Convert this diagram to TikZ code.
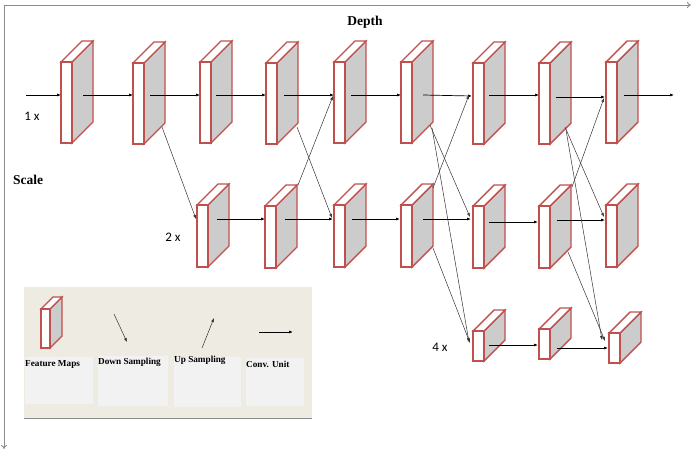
\documentclass[tikz,border=0pt]{standalone}
\usepackage{fontspec}
\setmainfont{Liberation Serif}
\newfontfamily\calib{Carlito}
\usetikzlibrary{arrows.meta}
\definecolor{blkred}{HTML}{C0504D}
\definecolor{blkgray}{HTML}{CCCCCC}
\definecolor{legbg}{HTML}{EEEBE2}
\definecolor{legbox}{HTML}{F2F2F2}
\definecolor{axisgray}{HTML}{8C8C8C}
\newcommand{\blk}[6]{% name, x, ytop, w, h, d
  \filldraw[face, fill=blkgray] ({#2+#4},{#3}) -- ({#2+#4+#6},{#3-#6}) -- ({#2+#4+#6},{#3-#6+#5}) -- ({#2+#4},{#3+#5}) -- cycle;
  \filldraw[face, fill=white] ({#2},{#3}) -- ({#2+#6},{#3-#6}) -- ({#2+#4+#6},{#3-#6}) -- ({#2+#4},{#3}) -- cycle;
  \node[front, minimum width=#4pt, minimum height=#5pt, anchor=north west] (#1) at (#2,#3) {};
}
\begin{document}
\begin{tikzpicture}[x=1pt,y=-1pt,
  face/.style={draw=blkred, line width=1.4pt, line join=miter},
  front/.style={draw=blkred, fill=white, line width=1.4pt, inner sep=0pt, outer sep=0pt, rectangle},
  conv/.style={-{Latex[length=4pt,width=3pt]}, line width=0.7pt, black},
  samp/.style={-{Latex[length=4pt,width=3pt]}, line width=0.5pt, black!80},
  axis/.style={-{To[length=4pt,width=6pt]}, line width=0.9pt, axisgray},
  lbl/.style={font=\calib\fontsize{13}{15}\selectfont, inner sep=0pt},
  ttl/.style={font=\bfseries\fontsize{13.5}{15}\selectfont, inner sep=0pt},
  leg/.style={font=\bfseries\fontsize{9.2}{10}\selectfont, inner sep=0pt, anchor=west}]
\useasboundingbox (0,0) rectangle (693,453);

% axes
\coordinate (origin) at (4,5);
\coordinate (xend) at (691,5);
\coordinate (yend) at (4,449);
\draw[axis] (origin) -- (xend);
\draw[axis] (origin) -- (yend);
\node[ttl] (depth) at (365,22) {Depth};
\node[ttl] (scale) at (28,180) {Scale};

% row 1
\blk{a1}{61}{62}{11}{81}{21}
\blk{a2}{133}{63}{11}{81}{21}
\blk{a3}{200}{62}{11}{81}{21}
\blk{a4}{266}{63}{11}{81}{21}
\blk{a5}{334}{62}{11}{81}{21}
\blk{a6}{401}{62}{11}{81}{21}
\blk{a7}{473}{63}{11}{81}{21}
\blk{a8}{539}{63}{11}{81}{21}
\blk{a9}{606}{62}{11}{81}{21}
% row 2
\blk{b3}{197}{205}{11}{62}{21}
\blk{b4}{265}{206}{11}{62}{21}
\blk{b5}{334}{205}{11}{62}{21}
\blk{b6}{401}{205}{11}{62}{21}
\blk{b7}{473}{206}{11}{62}{21}
\blk{b8}{539}{206}{11}{62}{21}
\blk{b9}{606}{205}{11}{62}{21}
% row 3
\blk{c7}{473}{331}{11}{30}{21}
\blk{c8}{539}{329}{11}{30}{21}
\blk{c9}{609}{333}{11}{30}{21}

\node[lbl] (l1) at (32,116) {1 x};
\node[lbl] (l2) at (173,237) {2 x};
\node[lbl] (l4) at (440,347) {4 x};

% row 1 connectors
\coordinate (in) at (26,95);
\coordinate (a1o) at (83,95);   \coordinate (a2i) at (133,95);
\coordinate (a2o) at (150,95);  \coordinate (a3i) at (200,95);
\coordinate (a3o) at (216,95);  \coordinate (a4i) at (266,95);
\coordinate (a4o) at (284,95);  \coordinate (a5i) at (334,95);
\coordinate (a5o) at (351,95);  \coordinate (a6i) at (401,95);
\coordinate (a6o) at (423,95);  \coordinate (a7i) at (472,96);
\coordinate (a7o) at (489,95);  \coordinate (a8i) at (539,95);
\coordinate (a8o) at (556,97);  \coordinate (a9i) at (605,97);
\coordinate (a9o) at (624,95);  \coordinate (out) at (674,95);
\coordinate (a1i) at (61,95);
\draw[conv] (in) -- (a1i);
\draw[conv] (a1o) -- (a2i);
\draw[conv] (a2o) -- (a3i);
\draw[conv] (a3o) -- (a4i);
\draw[conv] (a4o) -- (a5i);
\draw[conv] (a5o) -- (a6i);
\draw[conv] (a6o) -- (a7i);
\draw[conv] (a7o) -- (a8i);
\draw[conv] (a8o) -- (a9i);
\draw[conv] (a9o) -- (out);

% row 2 connectors
\coordinate (b3o) at (217,219); \coordinate (b4i) at (265,219);
\coordinate (b4o) at (285,219); \coordinate (b5i) at (333,219);
\coordinate (b5o) at (352,219); \coordinate (b6i) at (400,219);
\coordinate (b6o) at (423,219); \coordinate (b7i) at (471,219);
\coordinate (b7o) at (489,222); \coordinate (b8i) at (538,222);
\coordinate (b8o) at (557,220); \coordinate (b9i) at (605,220);
\draw[conv] (b3o) -- (b4i);
\draw[conv] (b4o) -- (b5i);
\draw[conv] (b5o) -- (b6i);
\draw[conv] (b6o) -- (b7i);
\draw[conv] (b7o) -- (b8i);
\draw[conv] (b8o) -- (b9i);

% row 3 connectors
\coordinate (c7o) at (489,345); \coordinate (c8i) at (538,345);
\coordinate (c8o) at (557,348); \coordinate (c9i) at (608,348);
\draw[conv] (c7o) -- (c8i);
\draw[conv] (c8o) -- (c9i);

% sampling connectors
\coordinate (s1a) at (162,127); \coordinate (s1b) at (196,219);
\coordinate (s2a) at (297,127); \coordinate (s2b) at (332,218);
\coordinate (s3a) at (298,185); \coordinate (s3b) at (333,96);
\coordinate (s4a) at (430,125); \coordinate (s4b) at (470,217);
\coordinate (s5a) at (432,128); \coordinate (s5b) at (469,342);
\coordinate (s6a) at (433,188); \coordinate (s6b) at (469,95);
\coordinate (s7a) at (433,248); \coordinate (s7b) at (470,343);
\coordinate (s8a) at (565,127); \coordinate (s8b) at (604,217);
\coordinate (s9a) at (566,130); \coordinate (s9b) at (602,340);
\coordinate (s10a) at (572,187); \coordinate (s10b) at (604,98);
\coordinate (s11a) at (568,252); \coordinate (s11b) at (605,341);
\foreach \k in {1,...,11}{\draw[samp] (s\k a) -- (s\k b);}

% legend
\fill[legbg] (24,287) rectangle (312,418);
\draw[axisgray, line width=0.8pt] (24,418) -- (312,418);
\fill[legbox] (25,357) rectangle (93,404);
\fill[legbox] (98,356) rectangle (168,406);
\fill[legbox] (174,357) rectangle (241,407);
\fill[legbox] (246,358) rectangle (304,406);
\blk{lg}{41}{309}{9}{39}{12}
\coordinate (ld1) at (114,314); \coordinate (ld2) at (127,342);
\coordinate (lu1) at (202,348); \coordinate (lu2) at (214,318);
\coordinate (lc1) at (259,332); \coordinate (lc2) at (293,332);
\draw[samp] (ld1) -- (ld2);
\draw[samp] (lu1) -- (lu2);
\draw[conv] (lc1) -- (lc2);
\node[leg] (tf) at (25,364) {Feature Maps};
\node[leg] (td) at (98,362) {Down Sampling};
\node[leg] (tu) at (174,360) {Up Sampling};
\node[leg] (tc) at (246,364) {Conv. Unit};
\end{tikzpicture}
\end{document}
